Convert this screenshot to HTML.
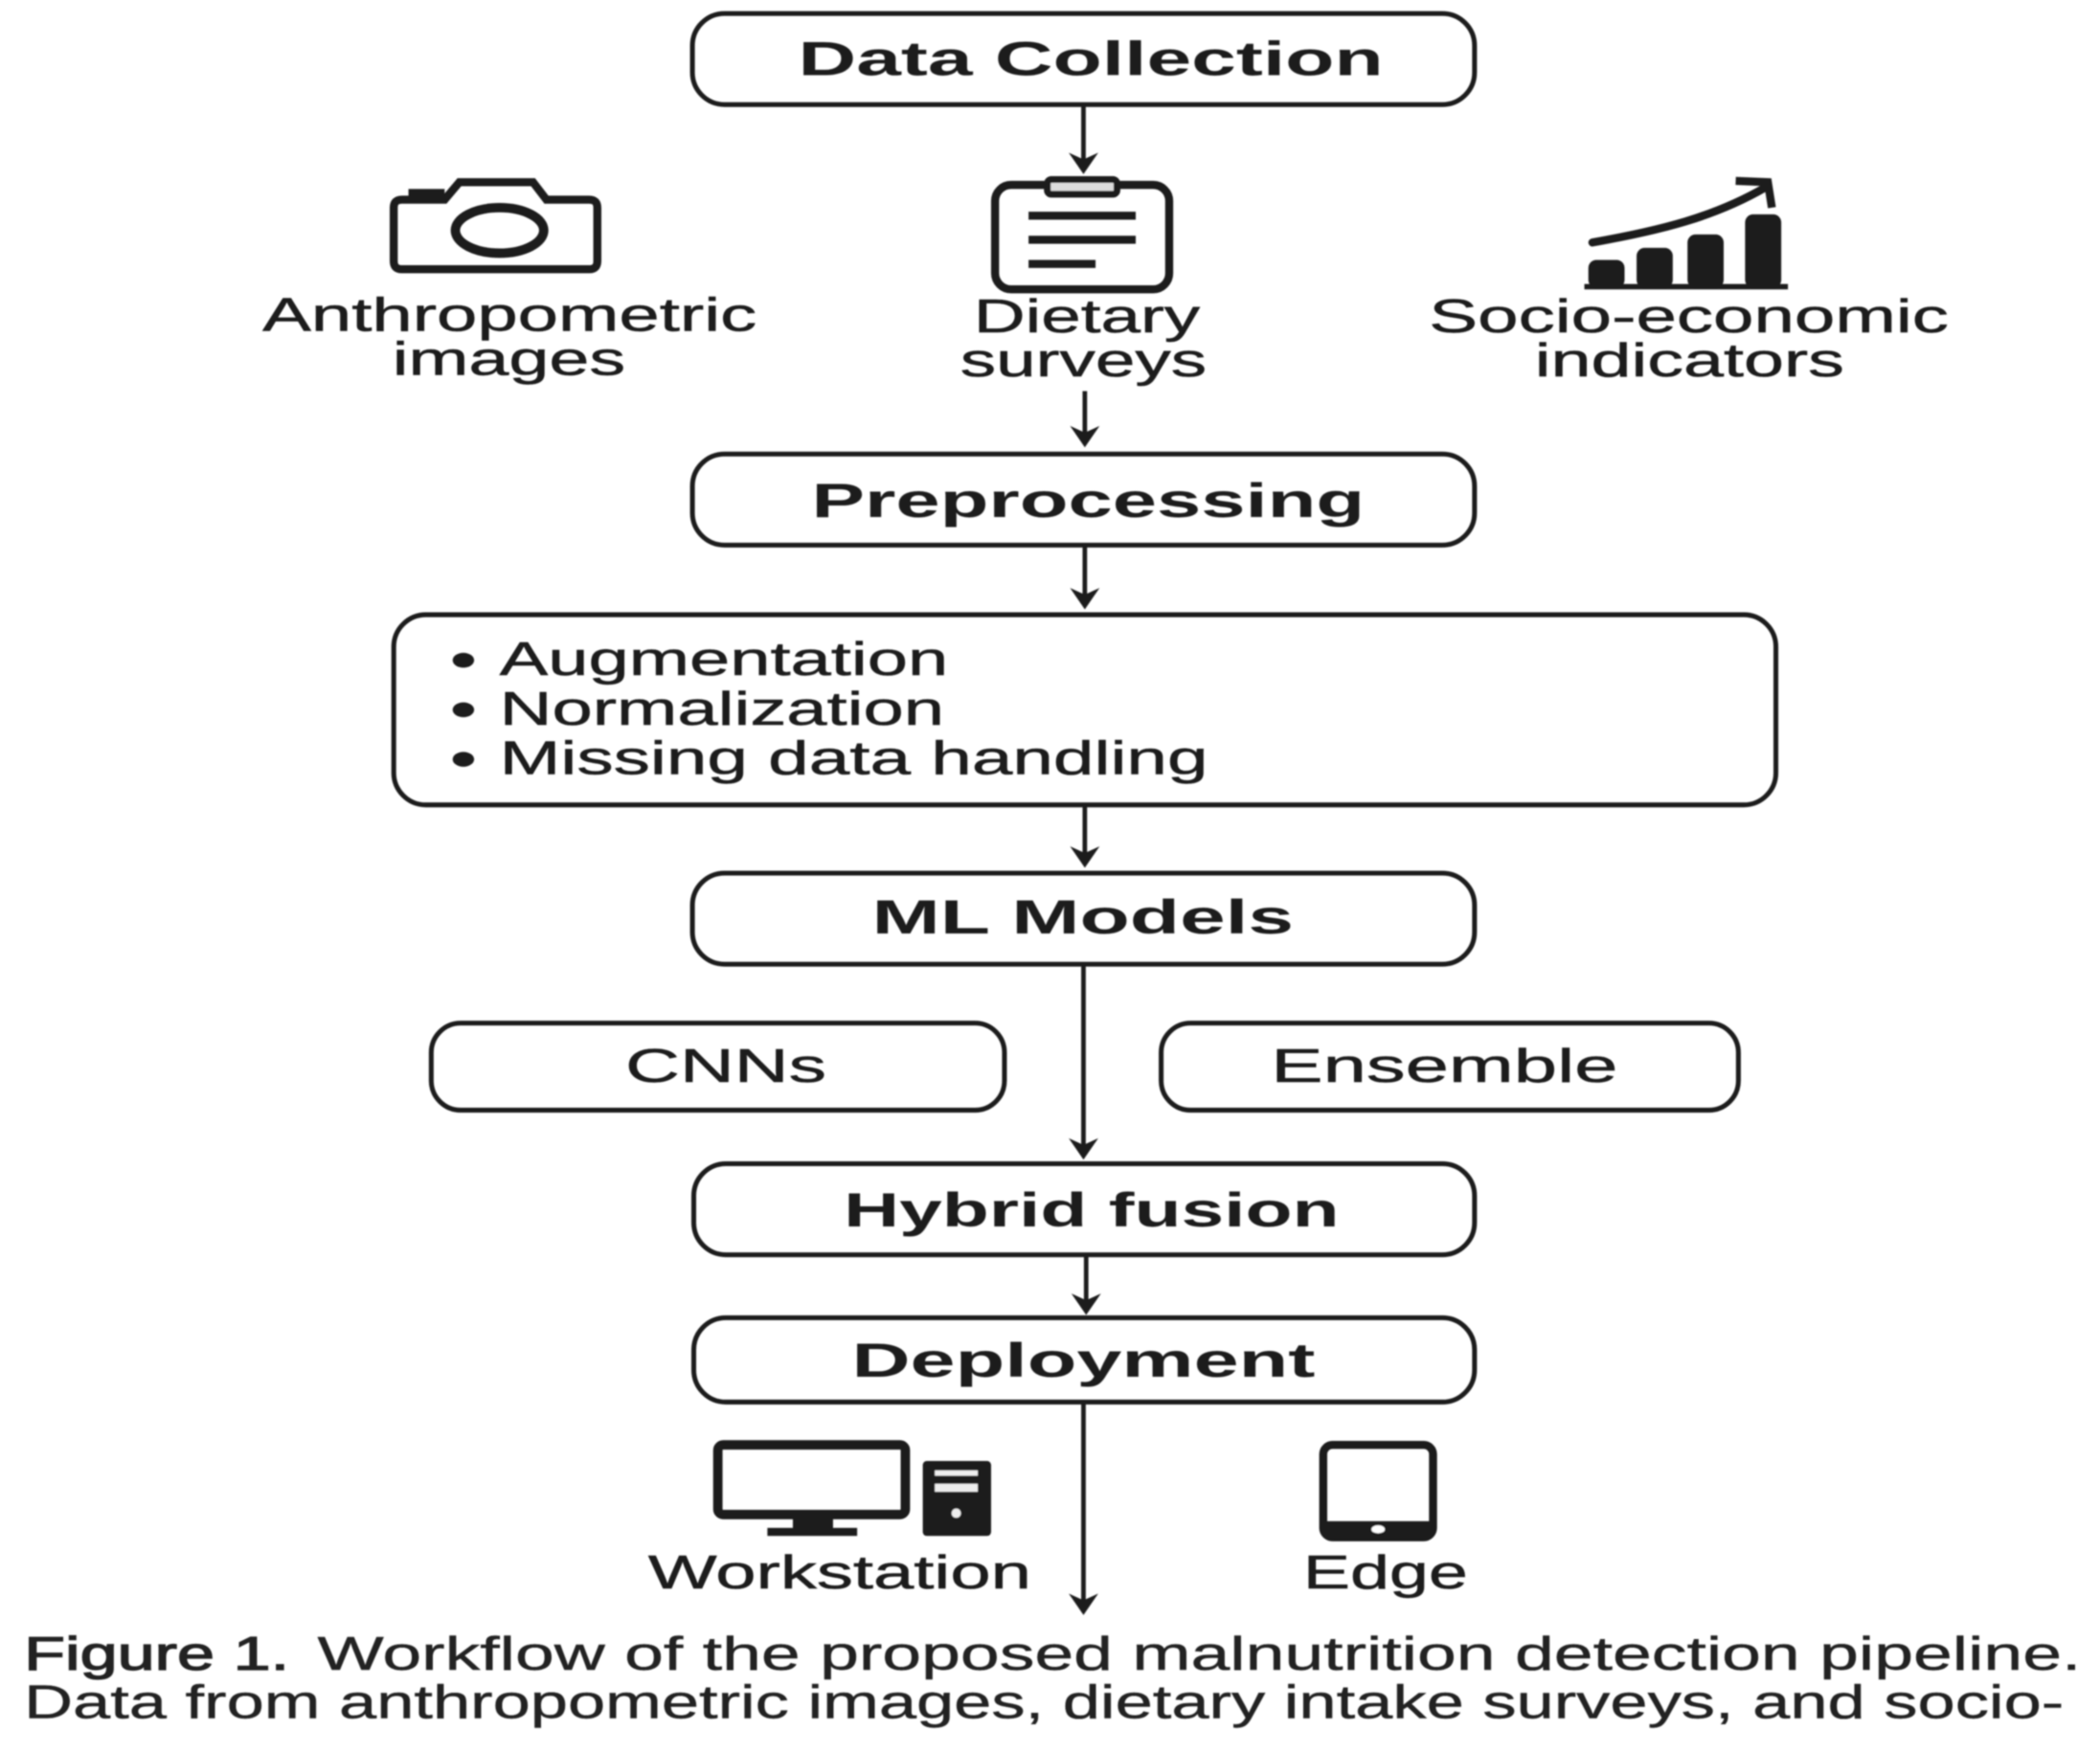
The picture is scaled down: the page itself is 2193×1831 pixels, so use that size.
<!DOCTYPE html>
<html>
<head>
<meta charset="utf-8">
<style>
html,body{margin:0;padding:0;background:#fff;width:2193px;height:1831px;overflow:hidden}
svg{display:block}
text{font-family:"Liberation Sans",sans-serif;fill:#1a1a1a}
.b{font-weight:700;font-size:36px}
.r{font-size:35px;stroke:#1a1a1a;stroke-width:.35}
.c{font-size:35px;fill:#222;stroke:#222;stroke-width:.3}
.box{fill:none;stroke:#1a1a1a;stroke-width:3.6}
.ln{stroke:#1a1a1a;stroke-width:3.4;fill:none}
.ic{fill:none;stroke:#1a1a1a;stroke-width:6}
.f{fill:#1a1a1a}
</style>
</head>
<body>
<svg width="2193" height="1831" viewBox="0 0 1568 1309" xmlns="http://www.w3.org/2000/svg">
<defs><filter id="s" x="-2%" y="-2%" width="104%" height="104%"><feGaussianBlur stdDeviation="0.6"/></filter></defs>
<rect width="1568" height="1309" fill="#fff"/>
<g filter="url(#s)">
<!-- boxes -->
<rect class="box" x="517" y="10" width="584" height="68" rx="24"/>
<rect class="box" x="517" y="339" width="584" height="68" rx="24"/>
<rect class="box" x="294" y="459" width="1032" height="142" rx="24"/>
<rect class="box" x="517" y="652" width="584" height="68" rx="24"/>
<rect class="box" x="322" y="764" width="428" height="65" rx="22"/>
<rect class="box" x="867" y="764" width="431" height="65" rx="22"/>
<rect class="box" x="518" y="869" width="583" height="68" rx="24"/>
<rect class="box" x="518" y="984" width="583" height="63" rx="24"/>
<!-- arrows -->
<path class="ln" d="M809 78V122M810 292V326M810 407V447M810 601V640M809 720V858M811 937V974M809 1047V1198"/>
<path class="f" d="M798 114L809 130L820 114L809 119ZM799 318L810 334L821 318L810 323ZM799 439L810 455L821 439L810 444ZM799 632L810 648L821 632L810 637ZM798 850L809 866L820 850L809 855ZM800 966L811 982L822 966L811 971ZM798 1190L809 1206L820 1190L809 1195Z"/>
<!-- box labels -->
<text class="b" x="596" y="56" textLength="437" lengthAdjust="spacingAndGlyphs">Data Collection</text>
<text class="b" x="606" y="386" textLength="413" lengthAdjust="spacingAndGlyphs">Preprocessing</text>
<text class="b" x="651" y="697" textLength="315" lengthAdjust="spacingAndGlyphs">ML Models</text>
<text class="b" x="630" y="916" textLength="370" lengthAdjust="spacingAndGlyphs">Hybrid fusion</text>
<text class="b" x="636" y="1028" textLength="346" lengthAdjust="spacingAndGlyphs">Deployment</text>
<text class="r" x="467" y="808" textLength="150" lengthAdjust="spacingAndGlyphs">CNNs</text>
<text class="r" x="949" y="808" textLength="259" lengthAdjust="spacingAndGlyphs">Ensemble</text>
<!-- source labels -->
<text class="r" x="196" y="247" textLength="369" lengthAdjust="spacingAndGlyphs">Anthropometric</text>
<text class="r" x="293" y="280" textLength="174" lengthAdjust="spacingAndGlyphs">images</text>
<text class="r" x="727" y="248" textLength="169" lengthAdjust="spacingAndGlyphs">Dietary</text>
<text class="r" x="717" y="281" textLength="184" lengthAdjust="spacingAndGlyphs">surveys</text>
<text class="r" x="1067" y="248" textLength="388" lengthAdjust="spacingAndGlyphs">Socio-economic</text>
<text class="r" x="1146" y="281" textLength="231" lengthAdjust="spacingAndGlyphs">indicators</text>
<!-- bullets -->
<ellipse class="f" cx="346" cy="493" rx="8" ry="5.5"/>
<ellipse class="f" cx="346" cy="530" rx="8" ry="5.5"/>
<ellipse class="f" cx="346" cy="567" rx="8" ry="5.5"/>
<text class="r" x="373" y="504" textLength="335" lengthAdjust="spacingAndGlyphs">Augmentation</text>
<text class="r" x="373" y="541" textLength="332" lengthAdjust="spacingAndGlyphs">Normalization</text>
<text class="r" x="373" y="578" textLength="529" lengthAdjust="spacingAndGlyphs">Missing data handling</text>
<!-- deploy labels -->
<text class="r" x="484" y="1186" textLength="286" lengthAdjust="spacingAndGlyphs">Workstation</text>
<text class="r" x="973" y="1186" textLength="123" lengthAdjust="spacingAndGlyphs">Edge</text>
<!-- caption -->
<text class="c" x="18" y="1247" textLength="198" lengthAdjust="spacingAndGlyphs" style="stroke-width:.9">Figure 1.</text>
<text class="c" x="237" y="1247" textLength="1317" lengthAdjust="spacingAndGlyphs">Workflow of the proposed malnutrition detection pipeline.</text>
<text class="c" x="18" y="1283" textLength="1523" lengthAdjust="spacingAndGlyphs">Data from anthropometric images, dietary intake surveys, and socio-</text>
<!-- camera -->
<path class="ic" d="M300 149H332L343 136H398L408 149H440Q446 149 446 155V195Q446 201 440 201H300Q294 201 294 195V155Q294 149 300 149Z"/>
<path class="f" d="M305 141H332V151H305Z"/>
<ellipse class="ic" cx="373" cy="172" rx="33" ry="17" style="stroke-width:7"/>
<!-- clipboard -->
<rect class="ic" x="743" y="138" width="130" height="78" rx="12"/>
<rect x="782" y="134" width="52" height="11" rx="3" fill="#ddd" stroke="#1a1a1a" stroke-width="5"/>
<path class="ic" d="M768 161H848M768 179H848M768 197H818"/>
<!-- chart -->
<path class="f" d="M1183 212H1335V216H1183Z"/>
<rect class="f" x="1186" y="194" width="27" height="21" rx="6"/>
<rect class="f" x="1222" y="185" width="27" height="30" rx="6"/>
<rect class="f" x="1260" y="175" width="27" height="40" rx="6"/>
<rect class="f" x="1303" y="160" width="27" height="55" rx="6"/>
<path d="M1189 181C1240 172 1280 162 1318 140" fill="none" stroke="#1a1a1a" stroke-width="6" stroke-linecap="round"/>
<path class="ln" style="stroke-width:6" d="M1296 135L1320 136L1323 155"/>
<!-- workstation -->
<rect x="536" y="1079" width="140" height="52" rx="4" fill="none" stroke="#1a1a1a" stroke-width="7"/>
<path class="f" d="M592 1131H622V1141H640V1147H573V1141H592Z"/>
<rect class="f" x="689" y="1091" width="51" height="56" rx="3"/>
<rect x="698" y="1098" width="32" height="4" fill="#eee"/>
<rect x="698" y="1108" width="32" height="6" fill="#eee"/>
<circle cx="714" cy="1130" r="3.5" fill="#eee"/>
<!-- tablet -->
<rect x="988" y="1079" width="82" height="69" rx="7" fill="none" stroke="#1a1a1a" stroke-width="6"/>
<path class="f" d="M988 1136H1070V1141Q1070 1148 1063 1148H995Q988 1148 988 1141Z"/>
<ellipse cx="1029" cy="1142" rx="5" ry="3" fill="#fff"/>
</g>
</svg>
</body>
</html>
